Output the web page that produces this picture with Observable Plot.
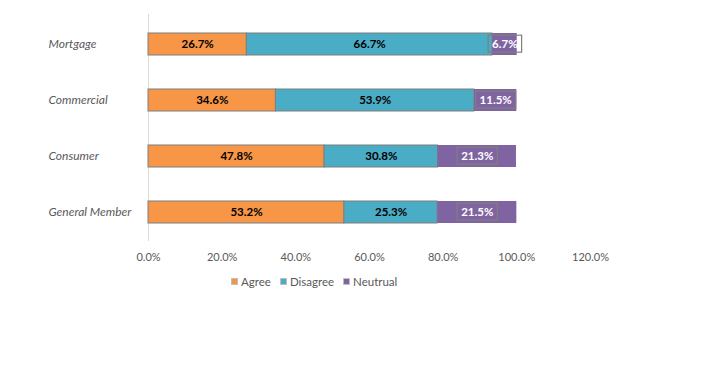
<!DOCTYPE html>
<html><head><meta charset="utf-8">
<script src="https://cdn.jsdelivr.net/npm/d3@7"></script>
<script src="https://cdn.jsdelivr.net/npm/@observablehq/plot@0.6"></script>
<style>
body{margin:0;background:#fff;font-family:Lato,"Open Sans",sans-serif;}
#wrap{position:relative;width:720px;height:365px;}
#legend{position:absolute;left:231px;top:275px;display:flex;gap:9px;font-size:11.5px;color:#595959;}
#legend span.item{display:flex;align-items:center;gap:3px;}
#legend i{display:inline-block;width:7px;height:7px;}
</style></head>
<body><div id="wrap"><div id="chart"></div><div id="legend"></div></div>
<script>
const categories = ["Mortgage","Commercial","Consumer","General Member"];
const seriesNames = ["Agree","Disagree","Neutrual"];
const agree = [26.7, 34.6, 47.8, 53.2];
const disagree = [66.7, 53.9, 30.8, 25.3];
const neutral = [6.7, 11.5, 21.3, 21.5];
const colors = ["#F79646","#4BACC6","#8064A2"];
const xTicks = [0,20,40,60,80,100,120];

const seriesValues = [agree, disagree, neutral];
const data = [];
seriesNames.forEach((s,si)=>categories.forEach((c,ci)=>data.push({cat:c, series:s, value:seriesValues[si][ci]})));

const stack = {x:"value", y:"cat", z:"series", order: seriesNames};
const chart = Plot.plot({
  width:720, height:268,
  marginLeft:148, marginRight:130, marginTop:14, marginBottom:27,
  style:{fontFamily:"Lato, 'Open Sans', sans-serif", fontSize:"11px"},
  x:{domain:[0,120], ticks:xTicks, tickFormat:d=>d.toFixed(1)+"%", label:null},
  y:{domain:categories, paddingInner:0.61, paddingOuter:0.32, axis:null},
  color:{domain:seriesNames, range:colors},
  marks:[
    Plot.ruleX([0],{stroke:"#d9d9d9", strokeWidth:1}),
    Plot.axisX({ticks:xTicks, tickFormat:d=>d.toFixed(1)+"%", tickSize:0, tickPadding:12, fill:"#595959", fontSize:11, label:null}),
    Plot.text(categories,{y:d=>d, frameAnchor:"left", textAnchor:"start", dx:-100, fill:"#595959", fontStyle:"italic", fontSize:12}),
    Plot.barX(data, Plot.stackX({...stack, fill:"series",
      stroke:d=>d.series==="Neutrual"?"none":"#7f7f7f", strokeWidth:1})),
    Plot.text(data, Plot.stackX({...stack, text:d=>d.value.toFixed(1)+"%",
      fill:d=>d.series==="Neutrual"?"white":"black", fontWeight:"bold", fontSize:11.5,
      className:"lbl"}))
  ]
});
document.getElementById("chart").appendChild(chart);

// boxes around Neutral labels
const svg = d3.select(chart);
svg.selectAll("g.lbl text").each(function(){
  if (this.getAttribute("fill")!=="white") return;
  const b = this.getBBox();
  d3.select(this.parentNode).insert("rect", ()=>this)
    .attr("transform", this.getAttribute("transform"))
    .attr("x", b.x-4).attr("y", b.y-2).attr("width", b.width+8).attr("height", b.height+4)
    .attr("fill","none").attr("stroke","#7f7f7f").attr("stroke-width",1.2);
});

const lg = d3.select("#legend");
seriesNames.forEach((s,i)=>{
  const it = lg.append("span").attr("class","item");
  it.append("i").style("background",colors[i]).style("border","1px solid #bfbfbf").style("box-sizing","border-box");
  it.append("span").text(s);
});
</script></body></html>
